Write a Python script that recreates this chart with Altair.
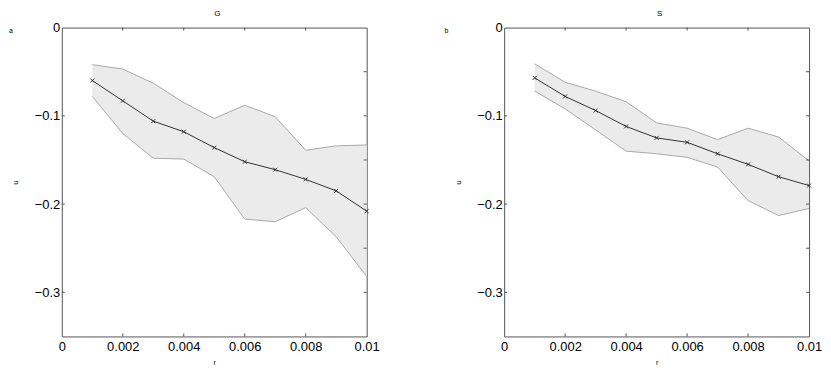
import altair as alt
import pandas as pd

# ---- data ----
r = [0.001, 0.002, 0.003, 0.004, 0.005, 0.006, 0.007, 0.008, 0.009, 0.010]

G_mean = [-0.060, -0.083, -0.106, -0.118, -0.136, -0.152, -0.161, -0.172, -0.185, -0.208]
G_upper = [-0.042, -0.047, -0.063, -0.085, -0.103, -0.088, -0.101, -0.139, -0.134, -0.133]
G_lower = [-0.078, -0.120, -0.148, -0.149, -0.169, -0.217, -0.220, -0.204, -0.237, -0.282]

S_mean = [-0.057, -0.078, -0.094, -0.112, -0.125, -0.130, -0.143, -0.155, -0.169, -0.179]
S_upper = [-0.041, -0.062, -0.072, -0.084, -0.108, -0.114, -0.127, -0.114, -0.124, -0.151]
S_lower = [-0.072, -0.092, -0.116, -0.140, -0.143, -0.147, -0.158, -0.196, -0.213, -0.205]

x_label_values = [0, 0.002, 0.004, 0.006, 0.008, 0.01]
x_tick_values = [0.002, 0.004, 0.006, 0.008]
y_label_values = [0, -0.1, -0.2, -0.3]
y_left_ticks = [-0.1, -0.2, -0.3]
y_right_ticks = [-0.05, -0.1, -0.15, -0.2, -0.25, -0.3]

W = 306
H = 310
FONT = "Liberation Sans"
TICK_COLOR = "#555555"


def panel(mean, upper, lower, title, letter, letter_x, u_x):
    df = pd.DataFrame({"r": r, "mean": mean, "upper": upper, "lower": lower})
    xs = alt.Scale(domain=[0, 0.01], nice=False, zero=False)
    ys = alt.Scale(domain=[-0.35, 0], nice=False, zero=False)
    xaxis = alt.Axis(values=x_label_values, format=".3~f", ticks=False, tickSize=0,
                     domain=False, grid=False, labelFlush=False, labelFontSize=13,
                     labelPadding=4, labelColor="#000", title="r", titleFontSize=7,
                     titleFontWeight="normal", titleX=W / 2, titleY=26,
                     titleBaseline="middle", titleAlign="center")
    yaxis = alt.Axis(values=y_label_values, format=".1~f", ticks=False, tickSize=0,
                     domain=False, grid=False, labelFontSize=13, labelPadding=2,
                     labelColor="#000", title="u", titleFontSize=8,
                     titleFontWeight="normal", titleX=u_x, titleY=H / 2,
                     titleAngle=-90, titleBaseline="middle", titleAlign="center")

    def X(f):
        return alt.X(f, type="quantitative", scale=xs, axis=xaxis)

    def Y(f):
        return alt.Y(f, type="quantitative", scale=ys, axis=yaxis)

    base = alt.Chart(df)
    band = base.mark_area(color="#ebebeb", opacity=1).encode(
        x=X("r"), y=Y("lower"), y2=alt.Y2("upper"))
    up_line = base.mark_line(color="#a9a9a9", strokeWidth=1).encode(x=X("r"), y=Y("upper"))
    lo_line = base.mark_line(color="#a9a9a9", strokeWidth=1).encode(x=X("r"), y=Y("lower"))
    mean_line = base.mark_line(color="#333333", strokeWidth=1).encode(x=X("r"), y=Y("mean"))
    pts = base.mark_point(shape="M-1,-1L1,1M-1,1L1,-1", size=16, color="#333333",
                          strokeWidth=1, filled=False, opacity=1).encode(x=X("r"), y=Y("mean"))

    xt = pd.DataFrame({"r": x_tick_values})
    bottom_ticks = alt.Chart(xt).mark_rule(color=TICK_COLOR, strokeWidth=1).encode(
        x=X("r"), y=alt.value(H), y2=alt.value(H - 3))
    top_ticks = alt.Chart(xt).mark_rule(color=TICK_COLOR, strokeWidth=1).encode(
        x=X("r"), y=alt.value(0), y2=alt.value(3))
    lt = pd.DataFrame({"mean": y_left_ticks})
    left_ticks = alt.Chart(lt).mark_rule(color=TICK_COLOR, strokeWidth=1).encode(
        y=Y("mean"), x=alt.value(0), x2=alt.value(3))
    rt = pd.DataFrame({"mean": y_right_ticks})
    right_ticks = alt.Chart(rt).mark_rule(color=TICK_COLOR, strokeWidth=1).encode(
        y=Y("mean"), x=alt.value(W), x2=alt.value(W - 3))

    title_txt = alt.Chart(pd.DataFrame({"t": [title]})).mark_text(
        fontSize=8, font=FONT, align="center", baseline="middle", color="#000").encode(
        text="t:N", x=alt.value(W / 2 + 3), y=alt.value(-14))
    letter_txt = alt.Chart(pd.DataFrame({"t": [letter]})).mark_text(
        fontSize=7, font=FONT, align="left", baseline="middle", color="#000").encode(
        text="t:N", x=alt.value(letter_x), y=alt.value(3))

    return alt.layer(band, up_line, lo_line, bottom_ticks, top_ticks, left_ticks,
                     right_ticks, mean_line, pts, title_txt, letter_txt).properties(
        width=W, height=H)


left = panel(G_mean, G_upper, G_lower, "G", "a", -53, -46)
right = panel(S_mean, S_upper, S_lower, "S", "b", -60, -46)

chart = alt.hconcat(left, right, spacing=63).properties(
    padding={"left": 0, "top": 0, "right": 0, "bottom": 0}
).configure_view(stroke="#555555", strokeWidth=1).configure_axis(
    labelFont=FONT, titleFont=FONT
).configure_text(font=FONT)

chart.save("out.html", embed_options={"renderer": "svg", "actions": False})
